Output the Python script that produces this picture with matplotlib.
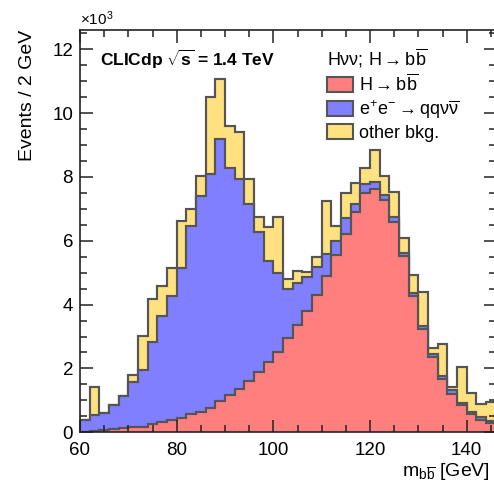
import numpy as np
import matplotlib.pyplot as plt
from matplotlib.patches import Patch
from matplotlib.ticker import MultipleLocator

plt.rcParams['font.family'] = ['Liberation Sans', 'DejaVu Sans']
plt.rcParams['mathtext.fontset'] = 'custom'
plt.rcParams['mathtext.rm'] = 'Liberation Sans'
plt.rcParams['mathtext.it'] = 'Liberation Sans:italic'
plt.rcParams['mathtext.bf'] = 'Liberation Sans:bold'

# invariant mass of the two b-jets, 2 GeV bins from 60 to 146 GeV
bin_lo = 60
bin_width = 2

# events per bin in units of 10^3
signal_hbb = [0.02, 0.05, 0.08, 0.10, 0.12, 0.16, 0.18, 0.27, 0.32, 0.38,
              0.45, 0.58, 0.65, 0.77, 0.98, 1.17, 1.36, 1.61, 1.90, 2.19,
              2.53, 2.94, 3.36, 3.81, 4.31, 4.90, 5.56, 6.21, 6.89, 7.49,
              7.62, 7.28, 6.60, 5.53, 4.27, 3.24, 2.35, 1.66, 1.20, 0.84,
              0.58, 0.40, 0.29]
bkg_qqvv = [0.35, 0.50, 0.52, 0.74, 1.01, 1.40, 1.76, 2.55, 3.33, 3.90,
            4.71, 5.87, 6.75, 7.31, 8.20, 7.11, 6.56, 5.54, 4.38, 3.16,
            2.45, 1.54, 1.32, 1.06, 0.86, 0.69, 0.42, 0.50, 0.26, 0.29,
            0.21, 0.16, 0.14, 0.10, 0.09, 0.08, 0.09, 0.10, 0.12, 0.08,
            0.07, 0.07, 0.06]
bkg_other = [0.00, 0.86, 0.00, 0.00, 0.00, 0.25, 1.08, 1.36, 0.92, 0.86,
             1.46, 0.54, 0.62, 2.42, 1.89, 1.30, 1.47, 0.77, 0.47, 1.09,
             1.77, 0.31, 0.38, 0.16, 0.32, 1.65, 0.47, 0.77, 0.67, 0.50,
             1.02, 0.60, 0.80, 0.45, 0.57, 1.06, 0.19, 1.01, 0.10, 1.13,
             0.57, 0.42, 0.61]

labels = [r'H$\rightarrow$b$\overline{\rm b}$',
          r'e$^{+}$e$^{-}$$\rightarrow$qqν$\overline{\mathrm{\nu}}$',
          'other bkg.']
colors = ['#ff7f7f', '#7f7fff', '#ffe17f']
edge = '#555555'

edges = bin_lo + bin_width * np.arange(len(signal_hbb) + 1)
stack1 = np.array(signal_hbb)
stack2 = stack1 + np.array(bkg_qqvv)
stack3 = stack2 + np.array(bkg_other)

fig = plt.figure(figsize=(4.94, 4.82), dpi=100)
ax = fig.add_axes([80 / 494, 49.7 / 482, 415.7 / 494, 402.3 / 482])

# stacked histogram, drawn from the total down
for vals, col in zip([stack3, stack2, stack1], colors[::-1]):
    ax.stairs(vals, edges, baseline=0, fill=True, facecolor=col,
              edgecolor=edge, linewidth=1.5)
    ax.stairs(vals, edges, baseline=0, fill=False, color=edge, linewidth=1.5)

ax.set_xlim(60, 146)
ax.set_ylim(0, 12.6)
ax.xaxis.set_major_locator(MultipleLocator(20))
ax.xaxis.set_minor_locator(MultipleLocator(5))
ax.yaxis.set_major_locator(MultipleLocator(2))
ax.yaxis.set_minor_locator(MultipleLocator(0.5))
ax.tick_params(which='both', direction='in', top=True, right=True,
               labelsize=13.5, width=1.1, color='#222222')
ax.tick_params(which='major', length=9)
ax.tick_params(which='minor', length=5)
ax.tick_params(axis='x', pad=7)
ax.tick_params(axis='y', pad=5)
for sp in ax.spines.values():
    sp.set_linewidth(1.2)
    sp.set_color('#222222')

ax.set_ylabel('Events / 2 GeV', fontsize=14, loc='top')
ax.yaxis.set_label_coords(-0.105, 1.0)
ax.set_xlabel(r'm$_{\rm b\overline{b}}$ [GeV]', fontsize=14, loc='right')
ax.xaxis.set_label_coords(0.987, -0.072)
ax.text(0.0, 1.005, r'$\times$10$^{3}$', transform=ax.transAxes,
        fontsize=11, ha='left', va='bottom')

ax.text(0.048, 0.955, r'CLICdp $\sqrt{\mathbf{s}}$ = 1.4 TeV',
        transform=ax.transAxes, fontsize=12.5, fontweight='bold',
        ha='left', va='top')

handles = [Patch(facecolor=c, edgecolor=edge, linewidth=1.5) for c in colors]
leg = ax.legend(handles, labels, loc='upper left',
                bbox_to_anchor=((327 - 80) / 415.7, (432.3 - 47) / 402.3),
                frameon=False, fontsize=13, borderpad=0, borderaxespad=0,
                handlelength=1.45, handleheight=0.9, handletextpad=0.3,
                labelspacing=0.18,
                title=r'Hνν; H$\rightarrow$b$\overline{\rm b}$',
                title_fontsize=13, alignment='left')

fig.savefig('out.png', dpi=100)
